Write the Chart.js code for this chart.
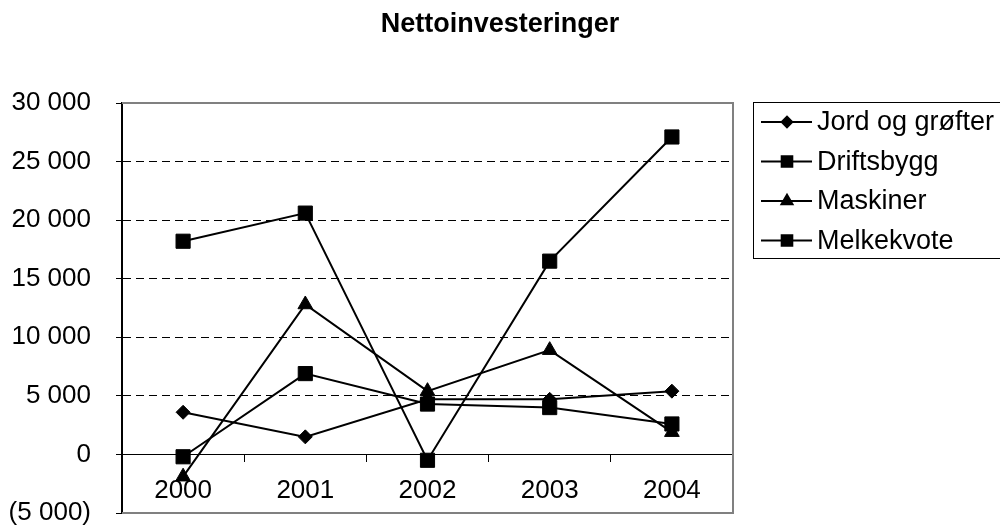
<!DOCTYPE html>
<html>
<head>
<meta charset="utf-8">
<title>Nettoinvesteringer</title>
<script src="https://cdn.jsdelivr.net/npm/chart.js@4"></script>
<style>
    html, body { margin: 0; padding: 0; background: #fff; }
    #wrap { width: 1000px; height: 527px; position: relative; }
</style>
</head>
<body>
<div id="wrap"><canvas id="nettoChart" width="1000" height="527"></canvas></div>
<script>
// data
const years = ["2000", "2001", "2002", "2003", "2004"];
const jordOgGrofter = [3600, 1500, 4700, 4700, 5400];
const driftsbygg = [18200, 20600, -500, 16500, 27100];
const maskiner = [-1900, 12800, 5400, 8900, 1900];
const melkekvote = [-200, 6900, 4300, 4000, 2600];
const yTicks = [-5000, 0, 5000, 10000, 15000, 20000, 25000, 30000];

const FONT = "'Liberation Sans', Arial, sans-serif";
const TITLE = "Nettoinvesteringer";

function fmt(v) {
    const s = Math.abs(v).toString().replace(/\B(?=(\d{3})+(?!\d))/g, " ");
    return v < 0 ? "(" + s + ")" : s;
}

function series(label, values, style, radius) {
    return {
        label: label,
        data: values,
        borderColor: "#000",
        backgroundColor: "#000",
        borderWidth: 2,
        pointStyle: style,
        pointRadius: radius,
        pointHoverRadius: radius,
        pointBorderWidth: 1,
        tension: 0
    };
}

// title drawn by hand so it can sit centred on the whole picture
const titlePlugin = {
    id: "bigTitle",
    afterDraw(chart) {
        const ctx = chart.ctx;
        ctx.save();
        ctx.font = "bold 27px " + FONT;
        ctx.fillStyle = "#000";
        ctx.textAlign = "center";
        ctx.textBaseline = "alphabetic";
        ctx.fillText(TITLE, 500, 32);
        ctx.restore();
    }
};

// grey frame round the plot (left side is the y axis line)
const framePlugin = {
    id: "frame",
    beforeDatasetsDraw(chart) {
        const a = chart.chartArea;
        const ctx = chart.ctx;
        ctx.save();
        ctx.strokeStyle = "#808080";
        ctx.lineWidth = 2;
        ctx.beginPath();
        ctx.moveTo(a.left, a.top);
        ctx.lineTo(a.right, a.top);
        ctx.lineTo(a.right, a.bottom);
        ctx.lineTo(a.left, a.bottom);
        ctx.stroke();
        ctx.restore();
    }
};

// legend box with line + marker, like the spreadsheet one
const legendPlugin = {
    id: "boxLegend",
    afterDraw(chart) {
        const ctx = chart.ctx;
        const x0 = 753, y0 = 102, rowH = 39.5;
        const sets = chart.data.datasets;
        ctx.save();
        ctx.strokeStyle = "#000";
        ctx.lineWidth = 1;
        ctx.strokeRect(x0 + 0.5, y0 + 0.5, 300, 156);
        ctx.font = "27px " + FONT;
        ctx.textBaseline = "middle";
        ctx.fillStyle = "#000";
        sets.forEach((ds, i) => {
            const cy = y0 + 20 + i * rowH;
            ctx.lineWidth = 2;
            ctx.beginPath();
            ctx.moveTo(761, cy);
            ctx.lineTo(812, cy);
            ctx.stroke();
            Chart.helpers.drawPoint(ctx, {
                pointStyle: ds.pointStyle,
                radius: ds.pointRadius * 0.75,
                borderWidth: 1,
                rotation: 0
            }, 787, cy);
            ctx.fill();
            ctx.fillText(ds.label, 817, cy + 1);
        });
        ctx.restore();
    }
};

new Chart(document.getElementById("nettoChart"), {
    type: "line",
    data: {
        labels: years,
        datasets: [
            series("Jord og grøfter", jordOgGrofter, "rectRot", 7),
            series("Driftsbygg", driftsbygg, "rect", 10),
            series("Maskiner", maskiner, "triangle", 8.5),
            series("Melkekvote", melkekvote, "rect", 10)
        ]
    },
    options: {
        responsive: false,
        animation: false,
        layout: { padding: { left: 0, top: 103, right: 267, bottom: 14 } },
        plugins: {
            legend: { display: false },
            tooltip: { enabled: false },
            title: { display: false }
        },
        scales: {
            x: {
                position: { y: 0 },
                offset: true,
                afterFit(scale) {
                    scale.paddingLeft = 0;
                    scale.paddingRight = 0;
                },
                grid: {
                    offset: true,
                    drawOnChartArea: false,
                    drawTicks: true,
                    tickLength: 7,
                    tickColor: "#000",
                    color: "#000"
                },
                border: { display: true, color: "#000", width: 1 },
                ticks: {
                    color: "#000",
                    font: { family: FONT, size: 26 },
                    padding: 14,
                    maxRotation: 0
                }
            },
            y: {
                min: -5000,
                max: 30000,
                afterFit(scale) {
                    scale.width = 122;
                    scale.paddingTop = 0;
                    scale.paddingBottom = 0;
                },
                afterBuildTicks(scale) {
                    scale.ticks = yTicks.map(v => ({ value: v }));
                },
                grid: {
                    color: c => (c.tick && c.tick.value > 0 && c.tick.value < 30000) ? "#000" : "rgba(0,0,0,0)",
                    lineWidth: 1,
                    tickLength: 6,
                    tickColor: "#000",
                    tickBorderDash: []
                },
                border: { display: true, color: "#000", width: 2, dash: [8, 5] },
                ticks: {
                    color: "#000",
                    font: { family: FONT, size: 26 },
                    padding: 25,
                    callback: v => fmt(v)
                }
            }
        }
    },
    plugins: [framePlugin, legendPlugin, titlePlugin]
});
</script>
</body>
</html>
